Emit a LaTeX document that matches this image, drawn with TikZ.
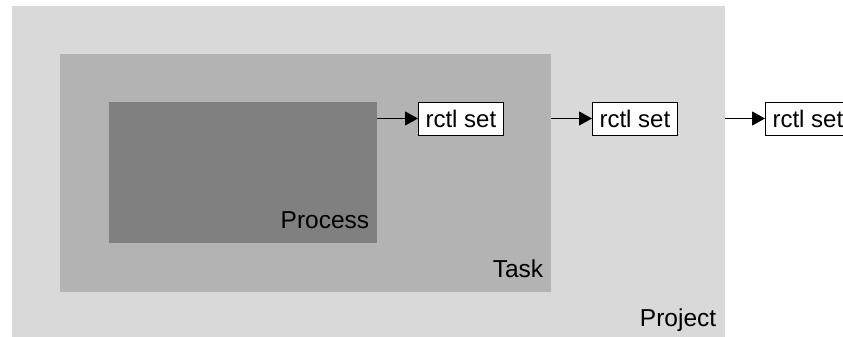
\documentclass[tikz,border=0pt]{standalone}
\usepackage{fontspec}
\setmainfont{Liberation Sans}
\usepackage{tikz}
\usetikzlibrary{positioning,arrows.meta}
\definecolor{projgray}{HTML}{D9D9D9}
\definecolor{taskgray}{HTML}{B3B3B3}
\definecolor{procgray}{HTML}{808080}
\tikzstyle{area} = [rectangle, draw=none, inner sep=0pt, anchor=north west]
\tikzstyle{rctlbox} = [rectangle, draw=black, line width=0.8pt, fill=white, minimum width=85pt, minimum height=33pt, inner sep=0pt, text centered, font=\fontsize{24}{27}\selectfont]
\tikzstyle{tag} = [anchor=base east, inner sep=0pt, font=\fontsize{24.5}{27}\selectfont]
\tikzstyle{connect} = [line width=1pt, -{Triangle[length=13pt,width=14pt]}]

\begin{document}
\begin{tikzpicture}[x=1pt,y=-1pt]
			\useasboundingbox (0,0) rectangle (843,337);
			\node (proj) [area, fill=projgray, minimum width=713pt, minimum height=331pt] at (12,6) {};
			\node (task) [area, fill=taskgray, minimum width=491pt, minimum height=238pt] at (60,54) {};
			\node (proc) [area, fill=procgray, minimum width=268pt, minimum height=141pt] at (109,102) {};
			\node (proclabel) [tag] at ([xshift=-8pt,yshift=15pt]proc.south east) {Process};
			\node (tasklabel) [tag] at ([xshift=-8pt,yshift=15pt]task.south east) {Task};
			\node (projlabel) [tag] at ([xshift=-9pt,yshift=11pt]proj.south east) {Project};
			\node (seta) [rctlbox, anchor=west] at (418,118.5) {rctl set};
			\node (setb) [rctlbox, anchor=west] at (592,118.5) {rctl set};
			\node (setc) [rctlbox, anchor=west] at (765,118.5) {rctl set};
			%-----------------------------------------------
			%-----------------------------------------------
			\draw [connect] (proc.east |- seta) -- (seta);
			\draw [connect] (task.east |- setb) -- (setb);
			\draw [connect] (proj.east |- setc) -- (setc);
			\end{tikzpicture}
\end{document}
